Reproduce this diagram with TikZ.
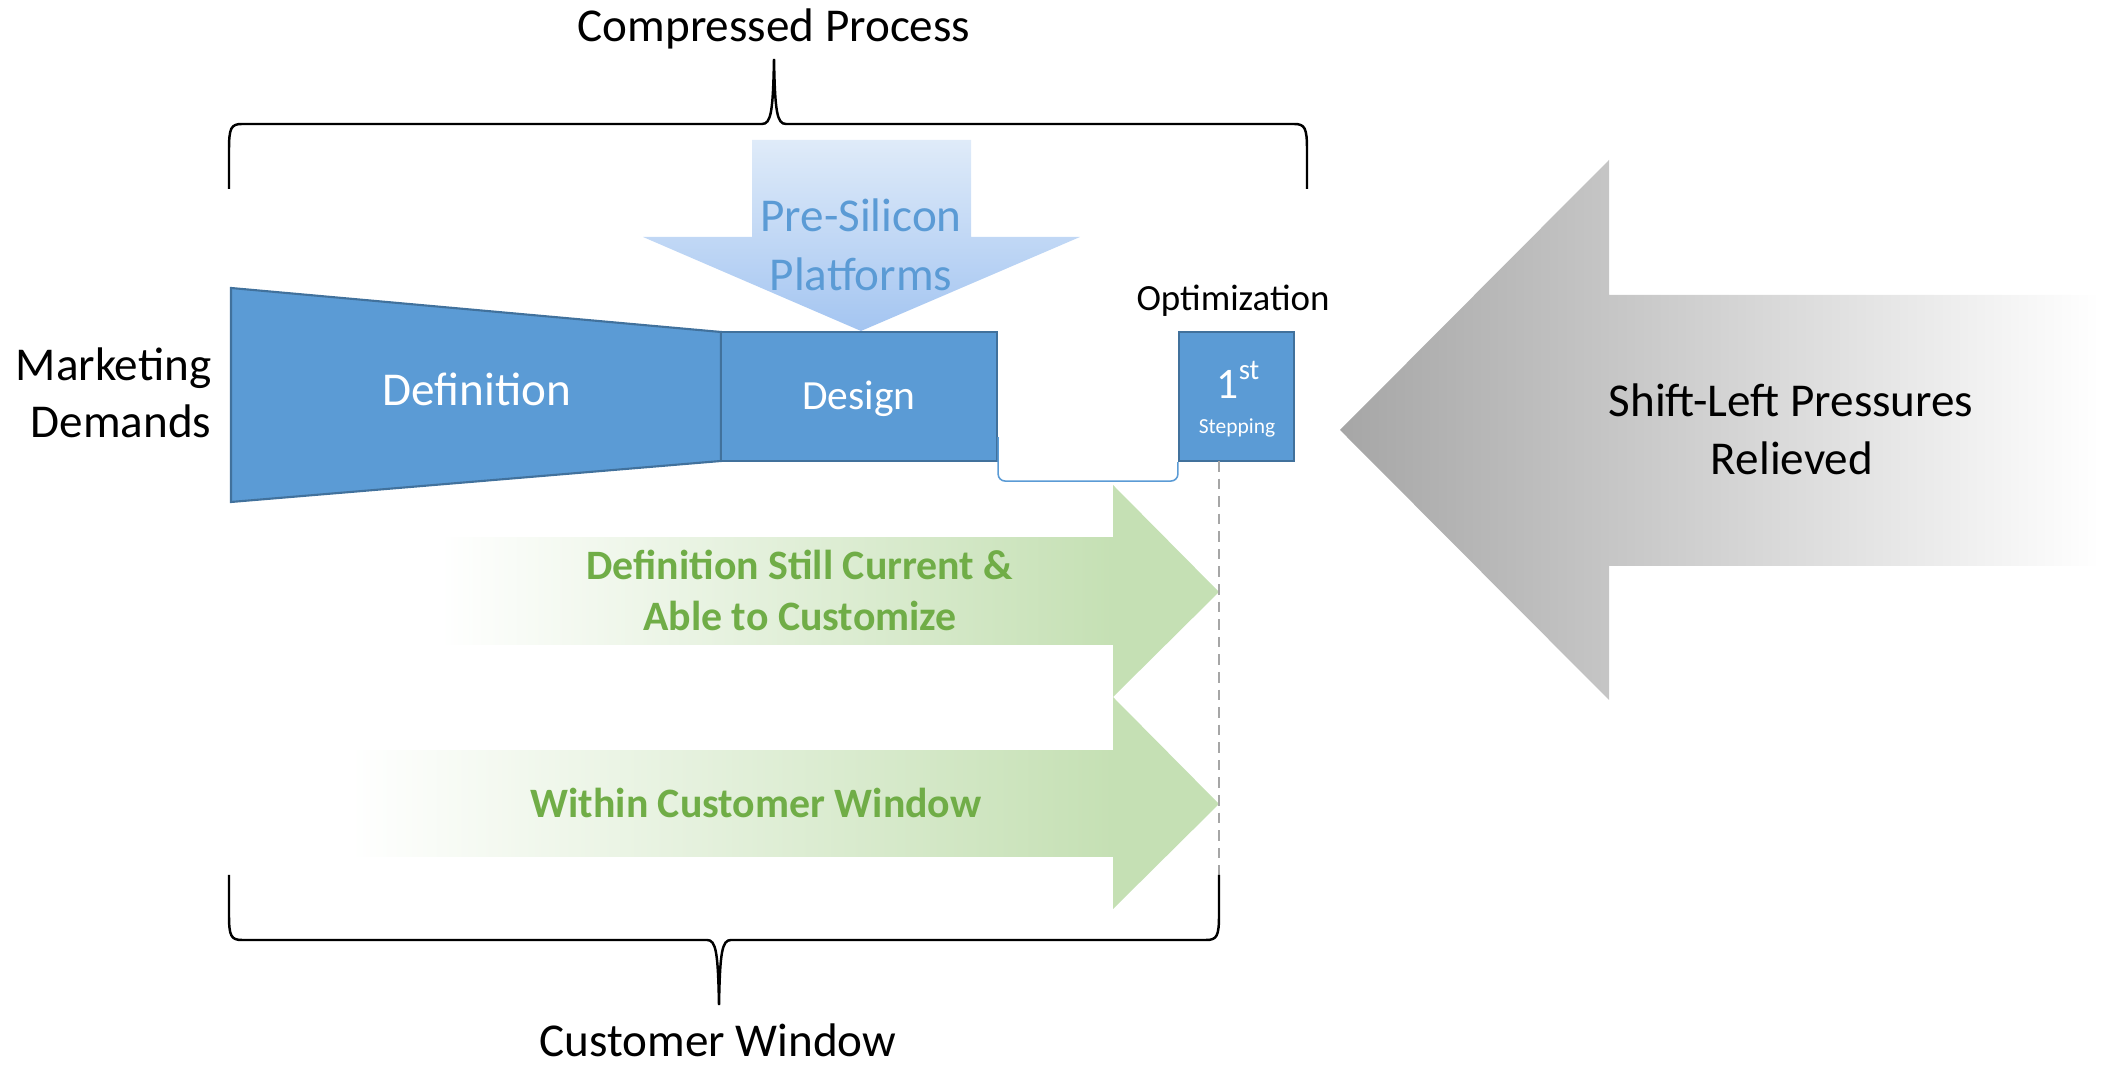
\documentclass[tikz,border=0pt]{standalone}
\usepackage{fontspec}
\setmainfont{Carlito}
\definecolor{blueF}{HTML}{5B9BD5}
\definecolor{blueD}{HTML}{41719C}
\definecolor{preTop}{HTML}{DFEBF9}
\definecolor{preBot}{HTML}{A4C5F1}
\definecolor{greenF}{HTML}{C5E0B4}
\definecolor{greenT}{HTML}{70AD47}
\definecolor{grayL}{HTML}{A6A6A6}
\begin{document}
\begin{tikzpicture}[x=0.01cm,y=-0.01cm,
  txt/.style={inner sep=0pt, anchor=base, font=\fontsize{13.4}{16}\selectfont},
  wtxt/.style={txt, text=white},
  gtxt/.style={inner sep=0pt, anchor=base, text=greenT, font=\fontsize{11.9}{14}\selectfont\bfseries},
  blockbox/.style={draw=blueD, fill=blueF, line width=0.6pt, inner sep=0pt, minimum height=1.29cm},
  bracepath/.style={draw=black, line width=0.7pt},
]
\useasboundingbox (0,0) rectangle (2102,1068);

% gray shift-left arrow
\shade[left color=grayL, right color=white] (1340,430) -- (1609,160) -- (1609,295) -- (2100,295) -- (2100,566) -- (1609,566) -- (1609,700) -- cycle;
\node[txt] (shift1) at (1791,417) {Shift-Left Pressures};
\node[txt] (shift2) at (1792,475) {Relieved};

% green arrows
\shade[left color=white, right color=greenF] (440,538) rectangle (1114,645);
\fill[greenF] (1113,485) -- (1219,592) -- (1113,697) -- cycle;
\shade[left color=white, right color=greenF] (350,751) rectangle (1114,857);
\fill[greenF] (1113,697) -- (1219,804) -- (1113,909) -- cycle;
\node[gtxt] (g1) at (800,580) {Definition Still Current \&};
\node[gtxt] (g2) at (800,631) {Able to Customize};
\node[gtxt] (g3) at (756,818) {Within Customer Window};

% pre-silicon arrow
\shade[top color=preTop, bottom color=preBot] (752,140) -- (971,140) -- (971,237) -- (1080,237) -- (861,331) -- (643,237) -- (752,237) -- cycle;
\node[txt, text=blueF] (pre1) at (861,232) {Pre-Silicon};
\node[txt, text=blueF] (pre2) at (861,291) {Platforms};

% definition trapezoid
\draw[draw=blueD, fill=blueF, line width=0.6pt] (231,288) -- (721,332) -- (721,461) -- (231,502) -- cycle;
\node[wtxt] (deftxt) at (477,406) {Definition};

% design
\node[blockbox, minimum width=2.76cm] (design) at (859,396.5) {};
\node[inner sep=0pt, anchor=base, text=white, font=\fontsize{11.8}{14}\selectfont] (designtxt) at (859,410) {Design};

% stepping
\node[blockbox, minimum width=1.15cm] (stepping) at (1236.5,396.5) {};
\node[inner sep=0pt, anchor=base, text=white, font=\fontsize{12.4}{14}\selectfont] (first) at (1238,399) {1\raisebox{0.45em}{\fontsize{8.2}{9}\selectfont st}};
\node[inner sep=0pt, anchor=base, text=white, font=\fontsize{6.1}{7}\selectfont] (steptxt) at (1237,434) {Stepping};
\node[inner sep=0pt, anchor=base, font=\fontsize{10.5}{12}\selectfont] (optim) at (1233,311) {Optimization};

% connector design -> stepping
\draw[blueF, line width=0.45pt, rounded corners=2pt] ([yshift=0.25cm]design.south east) -- ++(0,44) -| (stepping.south west);

% dashed guide
\coordinate (dtop) at (1219,461);
\coordinate (dbot) at (1219,875);
\draw[grayL, line width=0.4pt, dash pattern=on 3pt off 2pt] (dtop) -- (dbot);

% marketing demands
\node[txt, anchor=base east] (mk1) at (212,381) {Marketing};
\node[txt, anchor=base east] (mk2) at (212,438) {Demands};

% top brace
\draw[bracepath] (229,189) -- (229,150) .. controls (229,128) and (231,124) .. (242,124) -- (762,124) .. controls (771,124) and (773,112) .. (774,59) .. controls (775,112) and (777,124) .. (786,124) -- (1294,124) .. controls (1305,124) and (1307,128) .. (1307,150) -- (1307,189);
\node[txt] (comp) at (774,42) {Compressed Process};

% bottom brace
\draw[bracepath] (229,875) -- (229,915) .. controls (229,936) and (231,940) .. (242,940) -- (707,940) .. controls (716,940) and (718,952) .. (719,1005) .. controls (720,952) and (722,940) .. (731,940) -- (1206,940) .. controls (1217,940) and (1219,936) .. (1219,915) -- (dbot);
\node[txt] (cust) at (718,1057) {Customer Window};
\end{tikzpicture}
\end{document}
